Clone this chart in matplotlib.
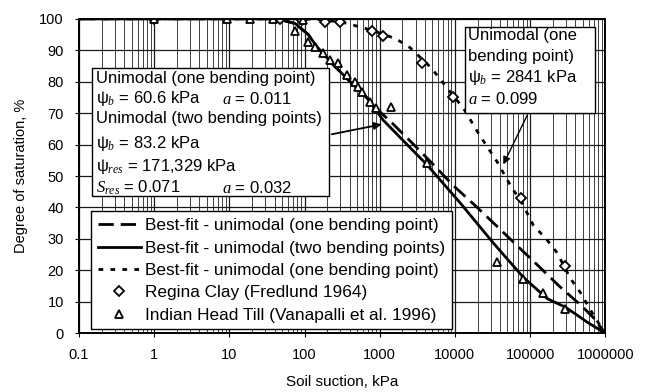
import matplotlib
matplotlib.use('Agg')
import matplotlib.pyplot as plt
from matplotlib.patches import Rectangle
from matplotlib.ticker import FixedLocator, FixedFormatter, LogLocator, NullFormatter

plt.rcParams['font.family'] = ['Liberation Sans', 'DejaVu Sans']
plt.rcParams['mathtext.fontset'] = 'custom'
plt.rcParams['mathtext.rm'] = 'Liberation Sans'
plt.rcParams['mathtext.it'] = 'Liberation Serif:italic'

# best-fit curves
one_x = [0.1, 35, 50, 75, 112, 147, 240, 404, 700, 1000, 1510, 2700, 4990, 9490,
         19800, 40100, 69500, 124000, 244000, 494000, 693000, 1e6]
one_y = [100, 100, 99.6, 98.5, 95, 91, 85.4, 80, 74.5, 70.5, 66.5, 60.5, 54, 47,
         40, 33, 27.5, 21.8, 15, 8.5, 5, 0]

two_x = [0.1, 35, 50, 75, 112, 147, 240, 404, 681, 1110, 2540, 4280, 11800, 32400,
         81200, 169000, 294000, 420000, 577000, 1e6]
two_y = [100, 100, 99.6, 98.5, 95, 91, 85.4, 80, 74.8, 67.8, 59, 53.5, 41.4, 28.7,
         17.8, 11, 8.3, 5.8, 3.5, 0]

clay_fit_x = [0.1, 100, 161, 307, 443, 800, 1655, 2540, 4840, 6780, 9490, 12900, 20400,
              36500, 57900, 76200, 110000, 169000, 230000, 342000, 465000, 737000, 1e6]
clay_fit_y = [100, 100, 99.7, 99, 98, 96.3, 93.6, 90.8, 84.4, 80, 75.5, 71.7, 63.7,
              54.5, 46, 42, 34.4, 29.6, 25.5, 17.5, 13, 4.8, 0]

# measured data
clay_x = [1, 47, 93, 188, 298, 793, 1110, 3670, 9490, 76200, 294000]
clay_y = [100, 100, 99.5, 98.9, 98.9, 96, 94.6, 86, 75.2, 43, 21.3]

till_x = [1, 9.3, 18.9, 38, 75, 96, 112, 138, 177, 219, 280, 369, 471, 517, 584,
          746, 897, 1420, 4280, 36500, 81100, 150000, 294000, 1e6]
till_y = [100, 100, 100, 100, 96, 99.5, 92.7, 91, 89, 87, 86, 82, 80, 78.3, 76.8,
          73.6, 71.7, 72, 54, 22.6, 17.2, 12.7, 7.6, 0]

xticks = [0.1, 1, 10, 100, 1000, 10000, 100000, 1000000]
xlabels = ['0.1', '1', '10', '100', '1000', '10000', '100000', '1000000']

fig = plt.figure(figsize=(6.48, 3.92), dpi=100)
ax = fig.add_axes([0.122, 0.150, 0.812, 0.802])

lw = 2.0
ax.plot(one_x, one_y, color='k', lw=lw, dashes=(5.5, 2.5),
        label='Best-fit - unimodal (one bending point)')
ax.plot(two_x, two_y, color='k', lw=lw, ls='-',
        label='Best-fit - unimodal (two bending points)')
ax.plot(clay_fit_x, clay_fit_y, color='k', lw=lw, dashes=(1.7, 2.6),
        label='Best-fit - unimodal (one bending point)')
ax.plot(clay_x, clay_y, ls='none', marker='D', ms=5.5, mfc='white', mec='k', mew=1.3,
        label='Regina Clay (Fredlund 1964)')
ax.plot(till_x, till_y, ls='none', marker='^', ms=6, mfc='white', mec='k', mew=1.3,
        label='Indian Head Till (Vanapalli et al. 1996)')

ax.set_xscale('log')
ax.set_xlim(0.1, 1e6)
ax.set_ylim(0, 100)
ax.xaxis.set_major_locator(FixedLocator(xticks))
ax.xaxis.set_major_formatter(FixedFormatter(xlabels))
ax.xaxis.set_minor_locator(LogLocator(base=10, subs=range(2, 10), numticks=20))
ax.xaxis.set_minor_formatter(NullFormatter())
ax.set_yticks(range(0, 101, 10))

ax.grid(which='major', axis='both', color='0.1', lw=0.9)
ax.grid(which='minor', axis='x', color='0.25', lw=0.7)
ax.set_axisbelow(True)
for s in ax.spines.values():
    s.set_linewidth(1.4)
ax.tick_params(axis='both', which='major', labelsize=10.5, length=3, direction='out', pad=8)
ax.tick_params(axis='x', which='minor', length=0)

ax.set_xlabel('Soil suction, kPa', fontsize=11, labelpad=9)
ax.set_ylabel('Degree of saturation, %', fontsize=10.5, labelpad=8)

leg = ax.legend(loc='lower left', bbox_to_anchor=(0.022, 0.012), fontsize=12.4,
                handlelength=2.5, handletextpad=0.25, labelspacing=0.42,
                borderpad=0.4, borderaxespad=0.0, fancybox=False, framealpha=1,
                edgecolor='k')
leg.get_frame().set_linewidth(1.0)

# annotation box for Indian Head Till
ax.add_patch(Rectangle((0.025, 0.436), 0.45, 0.408, transform=ax.transAxes,
                       facecolor='white', edgecolor='k', lw=1.0, zorder=5))
fs = 12
ax.text(0.032, 0.809, 'Unimodal (one bending point)', transform=ax.transAxes,
        fontsize=fs, va='center', zorder=6)
ax.text(0.032, 0.745, 'ψ$_b$ = 60.6 kPa', transform=ax.transAxes,
        fontsize=fs, va='center', zorder=6)
ax.text(0.272, 0.745, '$a$ = 0.011', transform=ax.transAxes,
        fontsize=fs, va='center', zorder=6)
ax.text(0.032, 0.682, 'Unimodal (two bending points)', transform=ax.transAxes,
        fontsize=fs, va='center', zorder=6)
ax.text(0.032, 0.602, 'ψ$_b$ = 83.2 kPa', transform=ax.transAxes,
        fontsize=fs, va='center', zorder=6)
ax.text(0.032, 0.529, 'ψ$_{res}$ = 171,329 kPa', transform=ax.transAxes,
        fontsize=fs, va='center', zorder=6)
ax.text(0.032, 0.462, '$S_{res}$ = 0.071', transform=ax.transAxes,
        fontsize=fs, va='center', zorder=6)
ax.text(0.272, 0.462, '$a$ = 0.032', transform=ax.transAxes,
        fontsize=fs, va='center', zorder=6)
ax.annotate('', xy=(0.580, 0.666), xytext=(0.475, 0.631), xycoords='axes fraction',
            arrowprops=dict(arrowstyle='-|>', color='k', lw=1.3, mutation_scale=11),
            zorder=6)

# annotation box for Regina Clay
ax.add_patch(Rectangle((0.734, 0.701), 0.247, 0.274, transform=ax.transAxes,
                       facecolor='white', edgecolor='k', lw=1.0, zorder=5))
ax.text(0.740, 0.946, 'Unimodal (one', transform=ax.transAxes,
        fontsize=fs, va='center', zorder=6)
ax.text(0.740, 0.879, 'bending point)', transform=ax.transAxes,
        fontsize=fs, va='center', zorder=6)
ax.text(0.740, 0.812, 'ψ$_b$ = 2841 kPa', transform=ax.transAxes,
        fontsize=fs, va='center', zorder=6)
ax.text(0.740, 0.745, '$a$ = 0.099', transform=ax.transAxes,
        fontsize=fs, va='center', zorder=6)
ax.annotate('', xy=(0.804, 0.529), xytext=(0.854, 0.701), xycoords='axes fraction',
            arrowprops=dict(arrowstyle='-|>', color='k', lw=1.0, mutation_scale=11),
            zorder=6)

fig.savefig('out.png', dpi=100)
